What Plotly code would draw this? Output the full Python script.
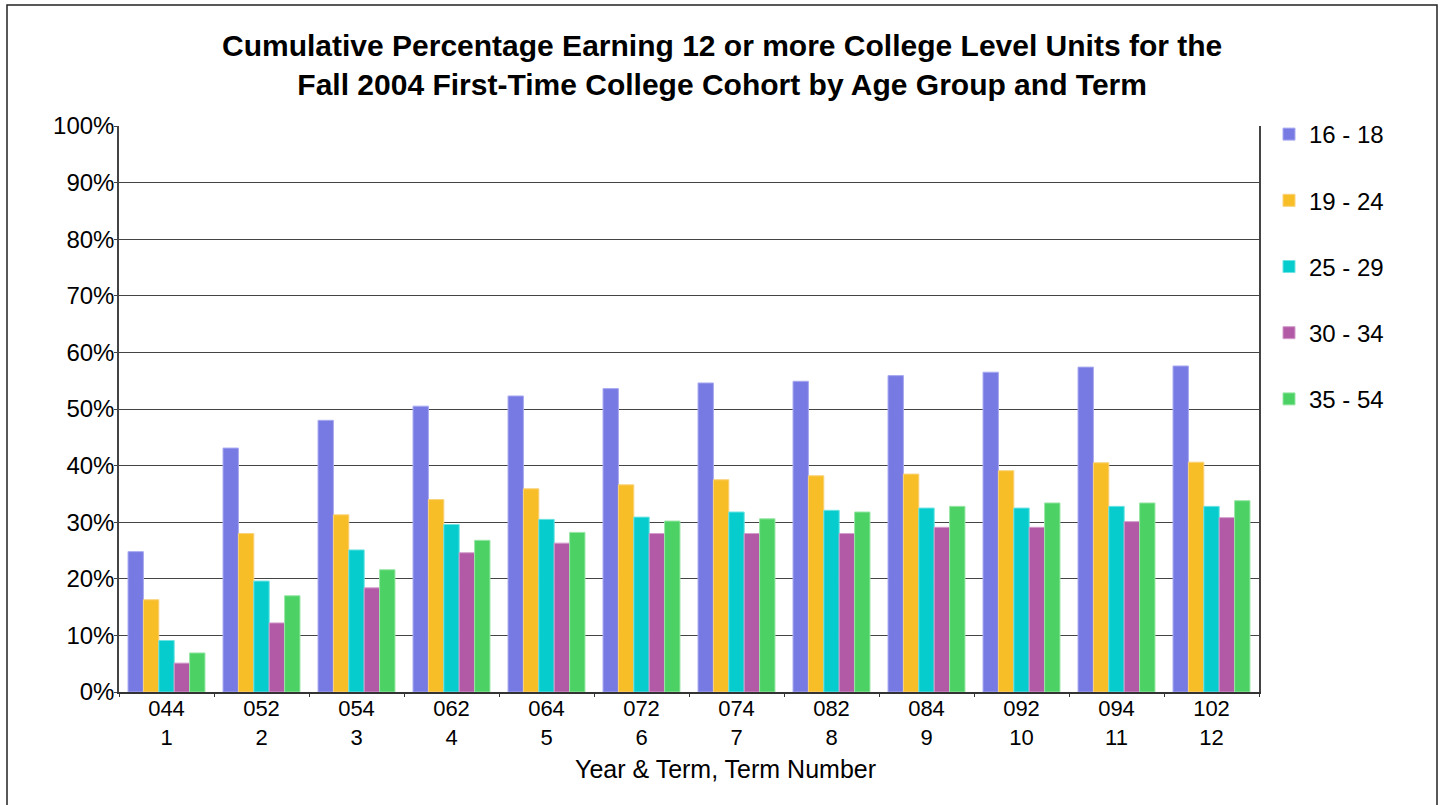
import plotly.graph_objects as go

terms = ["044", "052", "054", "062", "064", "072", "074", "082", "084", "092", "094", "102"]
term_numbers = ["1", "2", "3", "4", "5", "6", "7", "8", "9", "10", "11", "12"]
categories = [f"{t}<br>{n}" for t, n in zip(terms, term_numbers)]

age_groups = ["16 - 18", "19 - 24", "25 - 29", "30 - 34", "35 - 54"]

age_16_18 = [24.8, 43.1, 48.0, 50.5, 52.3, 53.6, 54.6, 54.9, 55.9, 56.5, 57.4, 57.6]
age_19_24 = [16.3, 28.0, 31.3, 34.0, 35.9, 36.6, 37.5, 38.2, 38.5, 39.1, 40.5, 40.6]
age_25_29 = [9.1, 19.6, 25.1, 29.6, 30.5, 30.9, 31.8, 32.1, 32.5, 32.5, 32.8, 32.8]
age_30_34 = [5.1, 12.2, 18.4, 24.6, 26.3, 28.0, 28.0, 28.0, 29.1, 29.1, 30.1, 30.8]
age_35_54 = [6.9, 17.0, 21.6, 26.8, 28.2, 30.2, 30.6, 31.8, 32.8, 33.4, 33.4, 33.8]

series = [age_16_18, age_19_24, age_25_29, age_30_34, age_35_54]
fill_colors = ["#787AE3", "#F8BE28", "#06CCCD", "#B25AA5", "#4CD264"]
edge_colors = ["#A9AAF0", "#F9D27A", "#6FE3E3", "#D39CCB", "#98E6A6"]

W, H = 1441, 805
L, R, T, B = 119, 182, 126, 113
pw, ph = W - L - R, H - T - B

FONT = "Liberation Sans, Arial, sans-serif"

fig = go.Figure()
for name, vals, fc, ec in zip(age_groups, series, fill_colors, edge_colors):
    fig.add_trace(go.Bar(
        name=name, x=categories, y=[v / 100 for v in vals],
        marker=dict(color=fc, line=dict(color=ec, width=1)),
        legendgroup=name,
    ))

def px_x(p):
    return (p - L) / pw

def px_y(p):
    return (H - B - p) / ph

fig.update_layout(
    width=W, height=H,
    margin=dict(l=L, r=R, t=T, b=B, autoexpand=False),
    paper_bgcolor="white", plot_bgcolor="white",
    barmode="group", bargap=0.19, bargroupgap=0.0,
    font=dict(family=FONT, size=24, color="black"),
    legend=dict(
        x=px_x(1269), y=px_y(112), xanchor="left", yanchor="top",
        xref="paper", yref="paper",
        font=dict(family=FONT, size=24, color="black"),
        tracegroupgap=32, traceorder="grouped",
        bgcolor="rgba(0,0,0,0)",
    ),
    showlegend=True,
)

# chart title
fig.add_annotation(
    text="<b>Cumulative Percentage Earning 12 or more College Level Units for the<br>Fall 2004 First-Time College Cohort by Age Group and Term</b>",
    xref="paper", yref="paper", x=px_x(722), y=px_y(65),
    xanchor="center", yanchor="middle", showarrow=False, align="center",
    font=dict(family=FONT, size=30, color="black"),
)

fig.update_xaxes(
    showline=True, linecolor="#333333", linewidth=2, mirror=False,
    ticks="outside", tickson="boundaries", ticklen=3, tickcolor="#333333",
    showgrid=False, tickfont=dict(family=FONT, size=22, color="black"),
    ticklabelstandoff=-4,
)
fig.update_yaxes(
    range=[0, 1], tickformat=".0%", dtick=0.1, tick0=0,
    showline=True, linecolor="#444444", linewidth=1.5, mirror=True,
    ticks="outside", ticklen=3, tickcolor="#444444",
    showgrid=True, gridcolor="#444444", gridwidth=1,
    tickfont=dict(family=FONT, size=24, color="black"),
    zeroline=False, ticklabelstandoff=-5,
)

# x-axis title centred under the whole chart
fig.add_annotation(
    text="Year & Term, Term Number", xref="paper", yref="paper",
    x=px_x(725), y=px_y(769), xanchor="center", yanchor="middle",
    showarrow=False, font=dict(family=FONT, size=25, color="black"),
)

# outer frame
fig.add_shape(type="rect", xref="paper", yref="paper",
              x0=px_x(7), x1=px_x(1437), y0=px_y(812), y1=px_y(5),
              line=dict(color="#222222", width=1.5), layer="below")

fig.write_html(
    "out.html",
    config={"displayModeBar": False},
    post_script="document.body.style.margin='0';document.body.style.padding='0';",
)
